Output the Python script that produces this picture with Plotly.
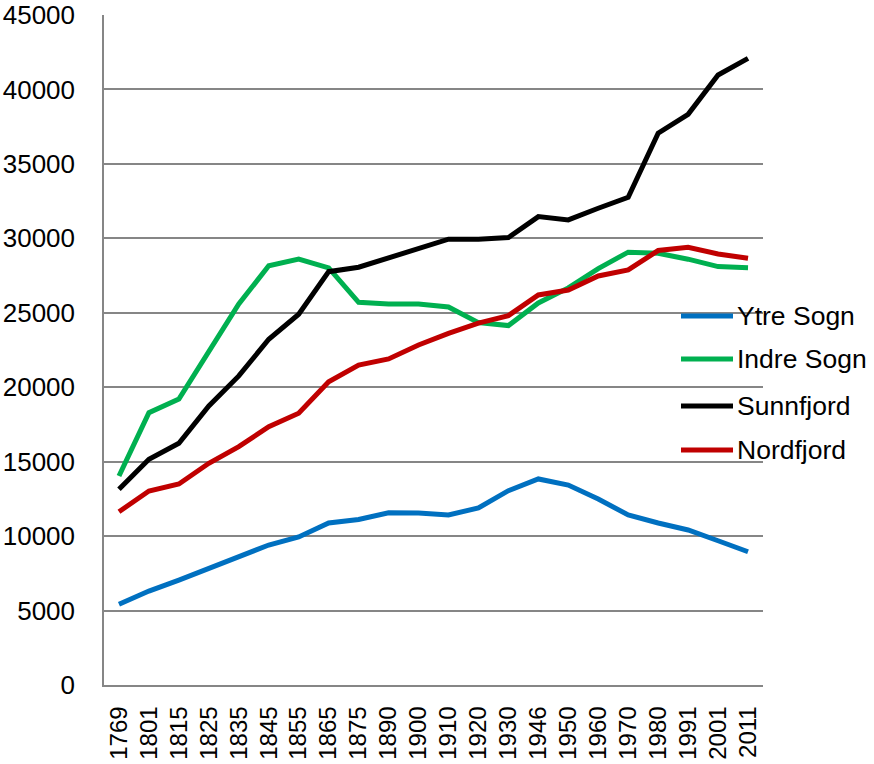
import plotly.graph_objects as go

years = ["1769", "1801", "1815", "1825", "1835", "1845", "1855", "1865", "1875", "1890",
         "1900", "1910", "1920", "1930", "1946", "1950", "1960", "1970", "1980", "1991",
         "2001", "2011"]

ytre_sogn = [5420, 6310, 7050, 7860, 8600, 9400, 9940, 10880, 11120, 11570,
             11550, 11420, 11890, 13050, 13840, 13430, 12490, 11420, 10880, 10410,
             9690, 8950]
indre_sogn = [14040, 18290, 19210, 22400, 25590, 28160, 28610, 28010, 25700, 25590,
              25590, 25390, 24340, 24140, 25660, 26670, 27970, 29070, 29000, 28600,
              28100, 28030]
sunnfjord = [13150, 15160, 16240, 18740, 20760, 23220, 24900, 27760, 28060, 28660,
             29260, 29940, 29940, 30050, 31460, 31240, 32020, 32760, 37060, 38330,
             40970, 42090]
nordfjord = [11640, 13030, 13500, 14890, 16010, 17350, 18250, 20370, 21490, 21900,
             22840, 23620, 24300, 24810, 26200, 26530, 27470, 27880, 29180, 29400,
             28950, 28660]

names = ["Ytre Sogn", "Indre Sogn", "Sunnfjord", "Nordfjord"]
series = [ytre_sogn, indre_sogn, sunnfjord, nordfjord]
colors = ["#0070C0", "#00B050", "#000000", "#C00000"]

FONT = "Liberation Sans, Arial, sans-serif"
W, H = 874, 764
L, R, T, B = 104, 111, 15, 79
pw, ph = W - L - R, H - T - B

fig = go.Figure()
for name, vals, col in zip(names, series, colors):
    fig.add_trace(go.Scatter(x=years, y=vals, name=name, mode="lines",
                             line=dict(color=col, width=5), showlegend=False))

# manual legend (layout elements in paper coordinates)
legend_y = [316, 359, 406, 450]
shapes = []
annotations = []
for name, col, py in zip(names, colors, legend_y):
    yp = (H - B - py) / ph
    shapes.append(dict(type="line", xref="paper", yref="paper",
                       x0=(681 - L) / pw, x1=(733 - L) / pw, y0=yp, y1=yp,
                       line=dict(color=col, width=5)))
    annotations.append(dict(text=name, xref="paper", yref="paper",
                            x=(735 - L) / pw, y=yp, xanchor="left", yanchor="middle",
                            showarrow=False, font=dict(family=FONT, size=26.5, color="#000000")))

fig.update_layout(
    width=W, height=H,
    margin=dict(l=L, r=R, t=T, b=B, pad=0, autoexpand=False),
    paper_bgcolor="white", plot_bgcolor="white",
    font=dict(family=FONT, size=25, color="#000000"),
    shapes=shapes, annotations=annotations,
    showlegend=False,
)
fig.update_xaxes(type="category", range=[-0.5, len(years) - 0.5], tickangle=-90,
                 showgrid=False, showline=True, linecolor="#868686", linewidth=1.5,
                 ticks="", ticklabelstandoff=10, automargin=False,
                 tickfont=dict(family=FONT, size=24))
fig.update_yaxes(range=[0, 45000], dtick=5000, tick0=0, showgrid=True,
                 gridcolor="#868686", gridwidth=1.5, showline=True, linecolor="#868686",
                 linewidth=1.5, ticks="", ticklabelstandoff=22, zeroline=False,
                 automargin=False, ticklabeloverflow="allow", tickformat="d",
                 tickfont=dict(family=FONT, size=26))

fig.write_html("out.html", config={"displayModeBar": False},
               post_script="document.body.style.margin='0';document.body.style.padding='0';")
